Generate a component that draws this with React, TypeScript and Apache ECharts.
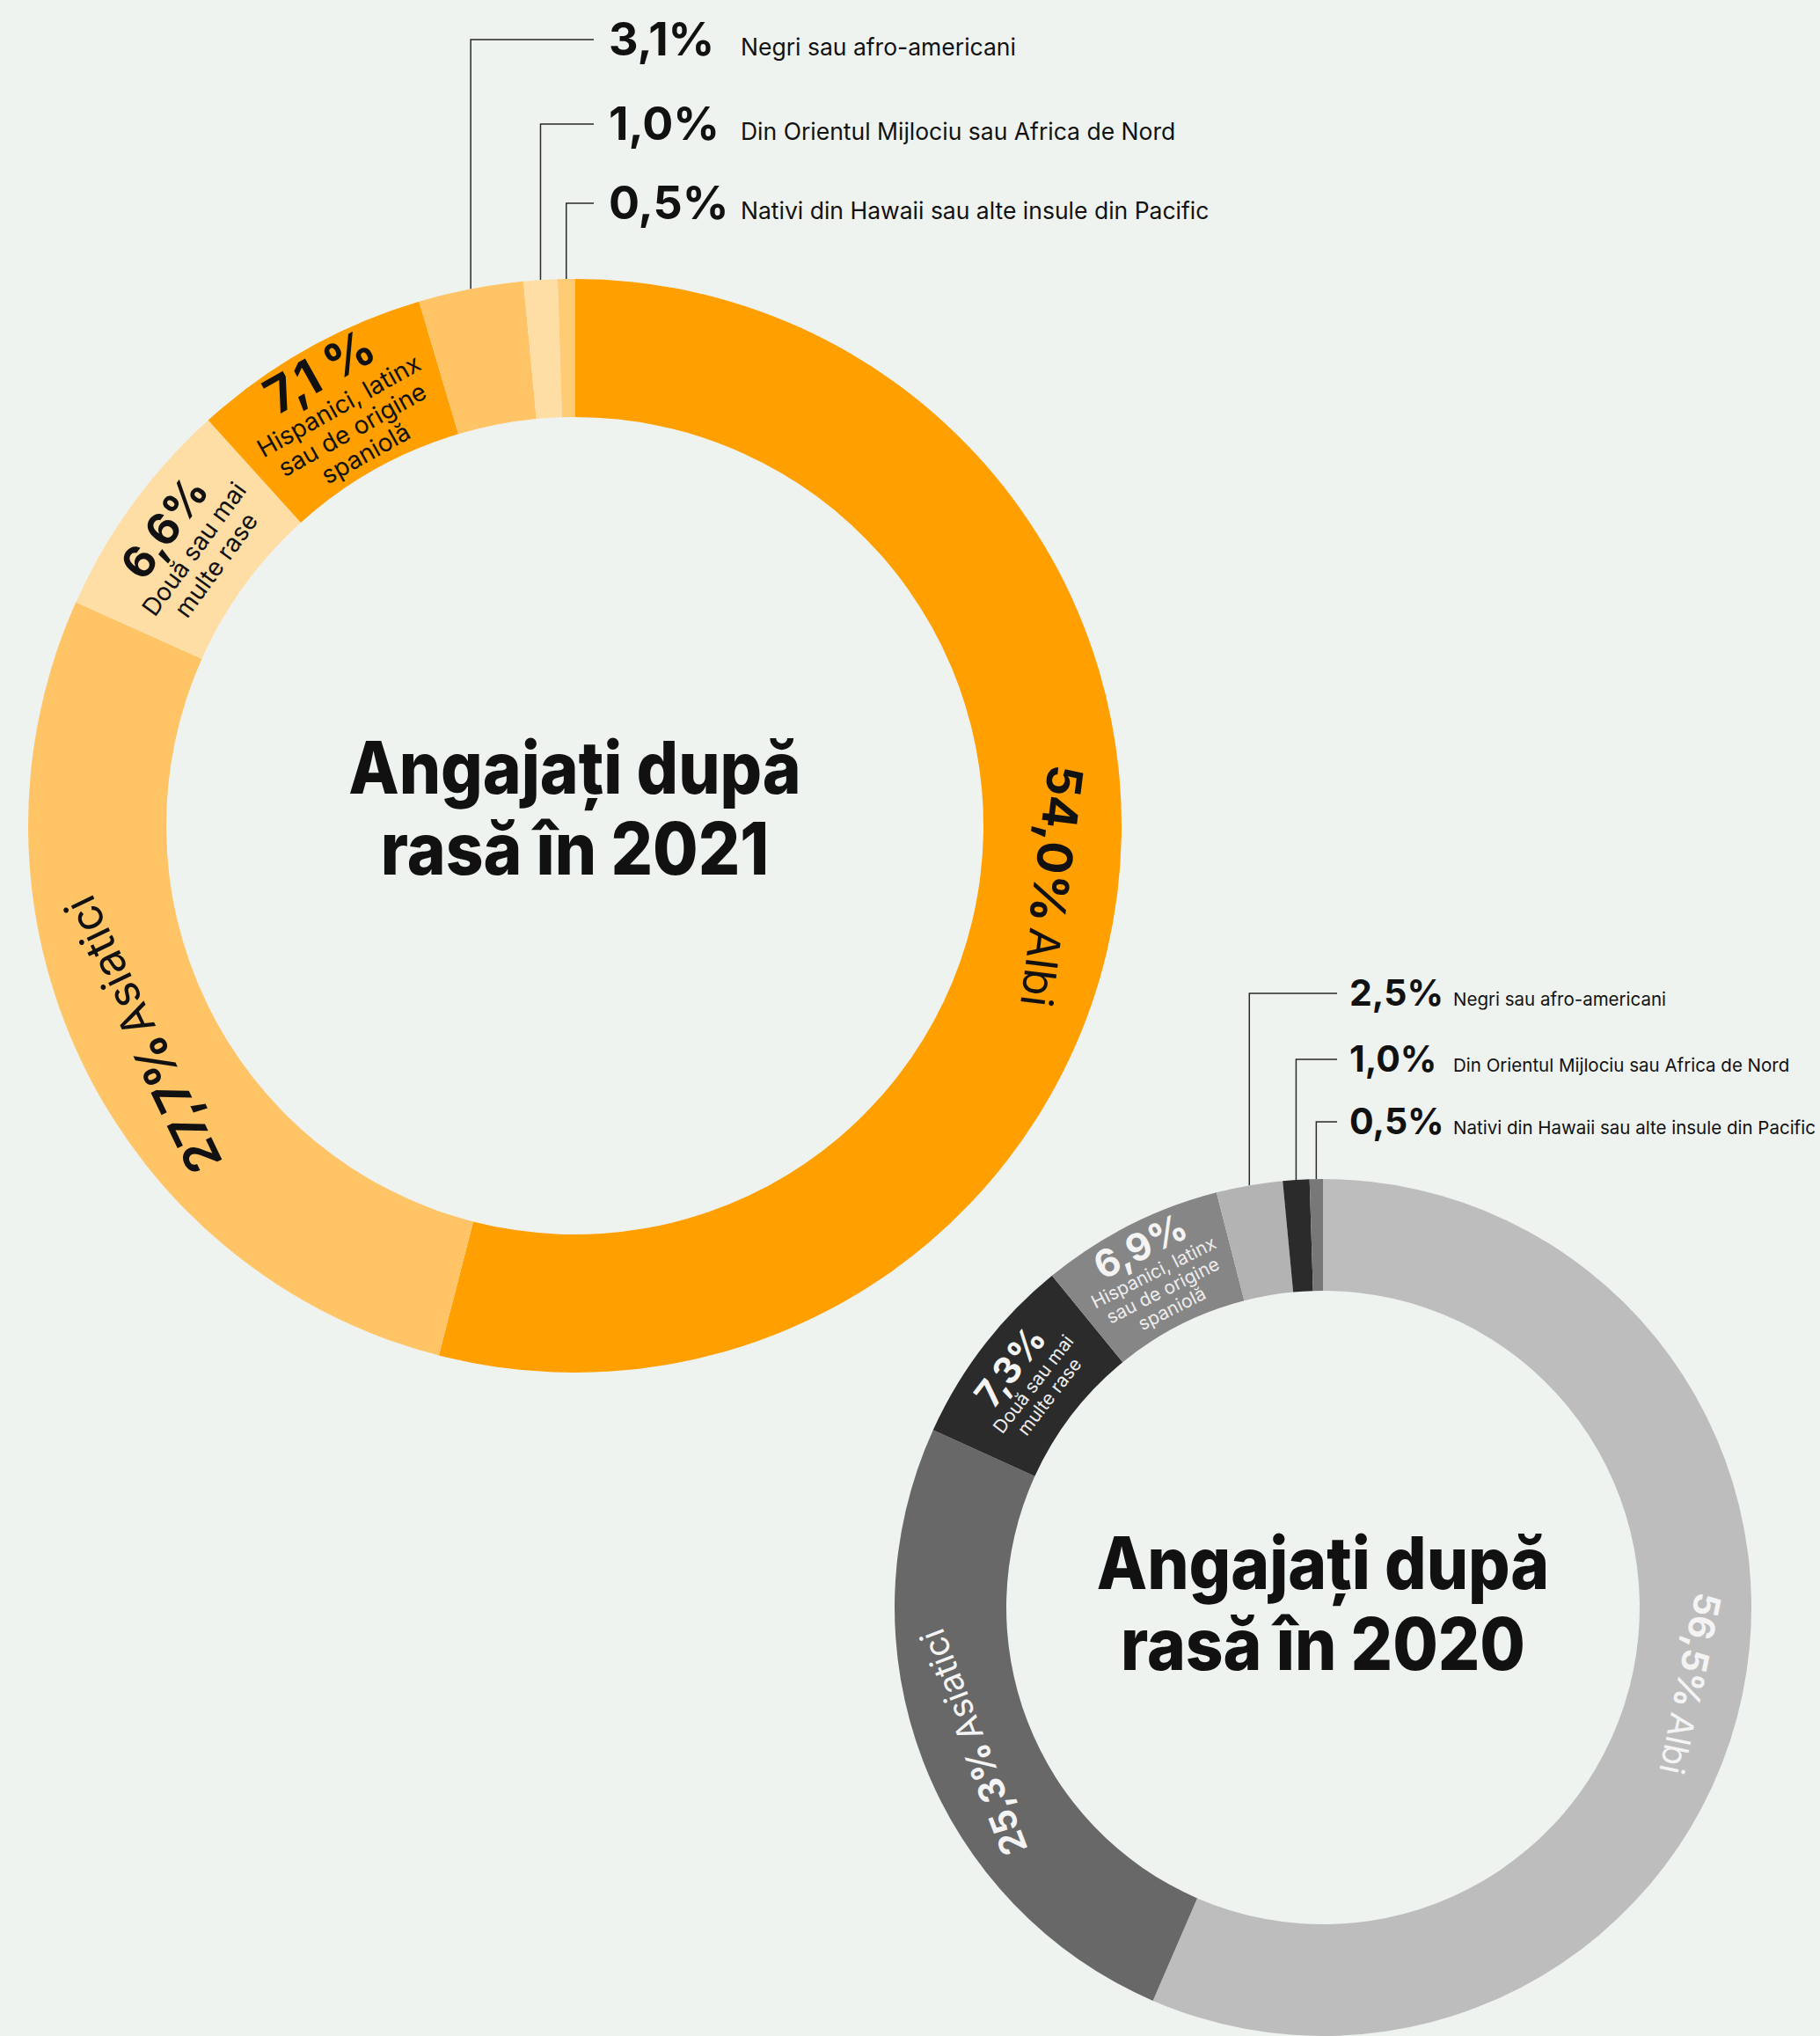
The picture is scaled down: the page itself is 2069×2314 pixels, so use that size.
import React, { useEffect, useRef } from 'react';
import * as echarts from 'echarts';

const W = 2069;
const H = 2314;
const BG = '#EFF3F0';
const FONT = 'Inter, "Noto Sans", sans-serif';

// ---- data ----
const categories = [
  'Albi',
  'Asiatici',
  'Două sau mai multe rase',
  'Hispanici, latinx sau de origine spaniolă',
  'Negri sau afro-americani',
  'Din Orientul Mijlociu sau Africa de Nord',
  'Nativi din Hawaii sau alte insule din Pacific',
];
const values2021 = [54.0, 27.7, 6.6, 7.1, 3.1, 1.0, 0.5];
const values2020 = [56.5, 25.3, 7.3, 6.9, 2.5, 1.0, 0.5];
const pct2021 = ['54,0%', '27,7%', '6,6%', '7,1 %', '3,1%', '1,0%', '0,5%'];
const pct2020 = ['56,5%', '25,3%', '7,3%', '6,9%', '2,5%', '1,0%', '0,5%'];
const insideNames = ['Albi', 'Asiatici', 'Două sau mai\nmulte rase', 'Hispanici, latinx\nsau de origine\nspaniolă'];
const title2021 = 'Angajați după\nrasă în 2021';
const title2020 = 'Angajați după\nrasă în 2020';

const colors2021 = ['#FF9F00', '#FFC466', '#FFDEA6', '#FF9F00', '#FFC466', '#FFDEA6', '#FFCB75'];
const colors2020 = ['#BDBDBD', '#686868', '#2B2B2B', '#868686', '#B3B3B3', '#2B2B2B', '#787878'];

// ---- layout ----
const g2021 = {
  cx: 653.5, cy: 938.5, r: 464.5, R: 621.5,
  titleY: 918, titleSize: 82, titleScaleX: 0.91,
  fg: '#111111', sub: '#111111',
  bigPct: 55, bigName: 50, smallPct: [50, 56], smallSub: 28, smallLH: 31,
  rowY: [45, 141, 231], lineEndX: 675, pctX: 692, nameX: 842,
  outPct: 52, outName: 26.5, nameDy: 8,
};
const g2020 = {
  cx: 1504, cy: 1827, r: 360, R: 487,
  titleY: 1822, titleSize: 82, titleScaleX: 0.91,
  fg: '#F4F4F4', sub: '#EDEDED',
  bigPct: 41, bigName: 39, smallPct: [42, 43], smallSub: 21, smallLH: 23,
  rowY: [1129, 1204, 1275], lineEndX: 1520, pctX: 1534, nameX: 1652,
  outPct: 41, outName: 20.5, nameDy: 6,
};

function midAngles(values: number[]) {
  const total = values.reduce((a, b) => a + b, 0);
  let acc = 0;
  return values.map((v) => {
    const m = ((acc + v / 2) / total) * 360;
    acc += v;
    return m;
  });
}

function norm(a: number) {
  let x = a % 360;
  if (x > 180) x -= 360;
  if (x <= -180) x += 360;
  return x;
}

function buildSeries(values: number[], pcts: string[], colors: string[], g: any) {
  const mids = midAngles(values);
  const data = values.map((v, i) => {
    const item: any = { value: v, name: categories[i], itemStyle: { color: colors[i] } };
    if (i < 2) {
      item.label = {
        show: true,
        position: 'inside',
        rotate: norm(-mids[i]),
        formatter: `{b|${pcts[i]}}  {n|${insideNames[i]}}`,
      };
    } else if (i < 4) {
      const lines = insideNames[i].split('\n').map((l) => `{s|${l}}`).join('\n');
      item.label = {
        show: true,
        position: 'inside',
        rotate: norm(-mids[i]),
        formatter: `{p${i}|${pcts[i]}}\n${lines}`,
      };
    } else {
      item.label = { show: false };
    }
    return item;
  });
  return {
    type: 'pie',
    center: [g.cx, g.cy],
    radius: [g.r, g.R],
    startAngle: 90,
    clockwise: true,
    avoidLabelOverlap: false,
    silent: true,
    labelLine: { show: false },
    label: {
      align: 'center',
      verticalAlign: 'middle',
      fontFamily: FONT,
      rich: {
        b: { fontSize: g.bigPct, fontWeight: 'bold', color: g.fg, fontFamily: FONT },
        n: { fontSize: g.bigName, fontWeight: 'normal', color: g.fg, fontFamily: FONT },
        p2: { fontSize: g.smallPct[0], fontWeight: 'bold', color: g.fg, fontFamily: FONT, lineHeight: g.smallPct[0] * 1.05, align: 'center' },
        p3: { fontSize: g.smallPct[1], fontWeight: 'bold', color: g.fg, fontFamily: FONT, lineHeight: g.smallPct[1] * 1.05, align: 'center' },
        s: { fontSize: g.smallSub, color: g.sub, fontFamily: FONT, lineHeight: g.smallLH, align: 'center' },
      },
    },
    data,
  };
}

function buildGraphics(values: number[], pcts: string[], g: any, title: string) {
  const mids = midAngles(values);
  const els: any[] = [];
  els.push({
    type: 'text',
    x: g.cx,
    y: g.titleY,
    scaleX: g.titleScaleX,
    style: {
      text: title,
      fontSize: g.titleSize,
      fontWeight: 800,
      fontFamily: FONT,
      fill: '#111111',
      lineHeight: 92,
      align: 'center',
      verticalAlign: 'middle',
      textAlign: 'center',
      textVerticalAlign: 'middle',
    },
  });
  for (let k = 0; k < 3; k++) {
    const i = 4 + k;
    const a = (mids[i] * Math.PI) / 180;
    const px = g.cx + g.R * Math.sin(a);
    const py = g.cy - g.R * Math.cos(a);
    const ry = g.rowY[k];
    els.push({
      type: 'polyline',
      shape: { points: [[px, py], [px, ry], [g.lineEndX, ry]] },
      style: { stroke: '#2a2a2a', lineWidth: 1.5, fill: null },
      silent: true,
    });
    els.push({
      type: 'text',
      x: g.pctX,
      y: ry - 1,
      style: {
        text: pcts[i], fontSize: g.outPct, fontWeight: 'bold', fontFamily: FONT, fill: '#111111',
        align: 'left', verticalAlign: 'middle', textAlign: 'left', textVerticalAlign: 'middle',
      },
    });
    els.push({
      type: 'text',
      x: g.nameX,
      y: ry + g.nameDy,
      style: {
        text: categories[i], fontSize: g.outName, fontWeight: 'normal', fontFamily: FONT, fill: '#111111',
        align: 'left', verticalAlign: 'middle', textAlign: 'left', textVerticalAlign: 'middle',
      },
    });
  }
  return els;
}

export default function App() {
  const ref = useRef<HTMLDivElement>(null);
  useEffect(() => {
    document.body.style.margin = '0';
    document.body.style.background = BG;
    if (!ref.current) return;
    const chart = echarts.init(ref.current, null, { renderer: 'svg', width: W, height: H });
    chart.setOption({
      animation: false,
      backgroundColor: BG,
      series: [
        buildSeries(values2021, pct2021, colors2021, g2021),
        buildSeries(values2020, pct2020, colors2020, g2020),
      ],
      graphic: [
        ...buildGraphics(values2021, pct2021, g2021, title2021),
        ...buildGraphics(values2020, pct2020, g2020, title2020),
      ],
    });
    return () => chart.dispose();
  }, []);
  return (
    <div
      ref={ref}
      style={{ position: 'absolute', left: 0, top: 0, width: W, height: H, background: BG }}
    />
  );
}
